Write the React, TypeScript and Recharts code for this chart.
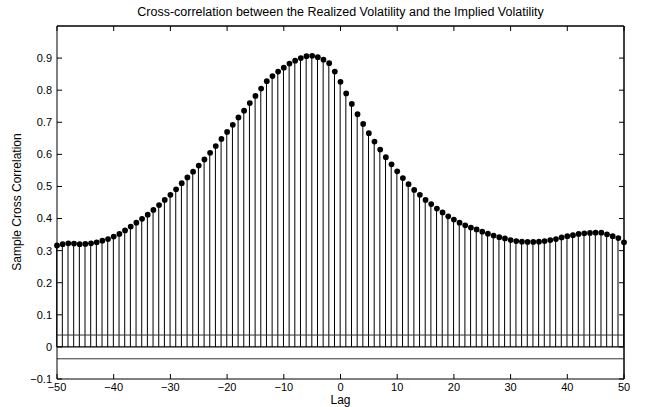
import { ComposedChart, Bar, Scatter, XAxis, YAxis, ZAxis, ReferenceLine } from 'recharts';

const lags: number[] = Array.from({ length: 101 }, (_, i) => i - 50);

// sample cross correlation at lags -50 .. 50
const xcorr: number[] = [
  0.316, 0.320, 0.323, 0.322, 0.320, 0.321, 0.323, 0.326, 0.331, 0.336,
  0.344, 0.352, 0.363, 0.375, 0.387, 0.399, 0.412, 0.427, 0.442, 0.458,
  0.474, 0.491, 0.510, 0.528, 0.546, 0.565, 0.584, 0.605, 0.626, 0.648,
  0.670, 0.692, 0.715, 0.736, 0.760, 0.782, 0.805, 0.828, 0.844, 0.858,
  0.870, 0.883, 0.892, 0.900, 0.906, 0.907, 0.903, 0.895, 0.884, 0.858,
  0.826, 0.790, 0.757, 0.725, 0.695, 0.666, 0.640, 0.615, 0.591, 0.569,
  0.547, 0.526, 0.507, 0.489, 0.474, 0.458, 0.445, 0.431, 0.419, 0.407,
  0.397, 0.387, 0.379, 0.372, 0.366, 0.359, 0.353, 0.347, 0.342, 0.338,
  0.333, 0.330, 0.328, 0.327, 0.327, 0.328, 0.330, 0.333, 0.336, 0.341,
  0.345, 0.348, 0.352, 0.354, 0.355, 0.356, 0.356, 0.351, 0.345, 0.339,
  0.326,
];

const confBound = 0.037;
const xTicks: number[] = [-50, -40, -30, -20, -10, 0, 10, 20, 30, 40, 50];
const yTicks: number[] = [-0.1, 0, 0.1, 0.2, 0.3, 0.4, 0.5, 0.6, 0.7, 0.8, 0.9];

const data = lags.map((lag, i) => ({ lag, value: xcorr[i] }));

const font = '"Liberation Sans", Arial, Helvetica, sans-serif';
const tickStyle = { fill: '#000', fontSize: 11, fontFamily: font };
const fmt = (v: number) => (v < 0 ? `\u2212${Math.abs(v)}` : `${v}`);
const blank = () => '';

export default function App() {
  return (
    <div style={{ position: 'absolute', left: 0, top: 0, width: 645, height: 407, background: '#fff', fontFamily: font }}>
      <ComposedChart
        width={645}
        height={407}
        data={data}
        margin={{ top: 25, right: 20, bottom: 0, left: 0 }}
        style={{ position: 'absolute', left: 0, top: 0 }}
      >
        <XAxis
          dataKey="lag"
          type="number"
          domain={[-50, 50]}
          ticks={xTicks}
          height={28}
          tickSize={-5}
          tickMargin={9}
          tick={tickStyle}
          stroke="#000"
          tickFormatter={fmt}
        />
        <XAxis
          xAxisId="top"
          dataKey="lag"
          orientation="top"
          type="number"
          domain={[-50, 50]}
          ticks={xTicks}
          height={1}
          tickSize={-5}
          tick={tickStyle}
          tickFormatter={blank}
          stroke="#000"
        />
        <YAxis
          type="number"
          domain={[-0.1, 1.0]}
          ticks={yTicks}
          width={57}
          tickSize={-5}
          tickMargin={10}
          tick={tickStyle}
          stroke="#000"
          tickFormatter={fmt}
        />
        <YAxis
          yAxisId="right"
          orientation="right"
          type="number"
          domain={[-0.1, 1.0]}
          ticks={yTicks}
          width={1}
          tickSize={-5}
          tick={tickStyle}
          tickFormatter={blank}
          stroke="#000"
        />
        <ZAxis range={[26, 26]} />
        <ZAxis zAxisId="box" range={[1, 1]} />
        <ReferenceLine y={1.0} stroke="#000" strokeWidth={1} />
        <ReferenceLine x={50} stroke="#000" strokeWidth={1} />
        <ReferenceLine y={confBound} stroke="#333" strokeWidth={1} />
        <ReferenceLine y={-confBound} stroke="#333" strokeWidth={1} />
        <Bar dataKey="value" barSize={1} fill="#000" isAnimationActive={false} />
        <ReferenceLine y={0} stroke="#000" strokeWidth={1.2} />
        <Scatter dataKey="value" fill="#000" shape="circle" isAnimationActive={false} />
        {/* invisible series so the top / right box axes get drawn with their ticks */}
        <Scatter
          dataKey="value"
          xAxisId="top"
          yAxisId="right"
          zAxisId="box"
          fill="none"
          stroke="none"
          legendType="none"
          isAnimationActive={false}
        />
      </ComposedChart>
      <div style={{ position: 'absolute', left: 0, width: 681, top: 5, textAlign: 'center', fontSize: 12.5, color: '#000', whiteSpace: 'nowrap' }}>
        Cross-correlation between the Realized Volatility and the Implied Volatility
      </div>
      <div style={{ position: 'absolute', left: 0, width: 681, top: 393, textAlign: 'center', fontSize: 12, color: '#000' }}>
        Lag
      </div>
      <div
        style={{
          position: 'absolute', left: 17, top: 202, fontSize: 12, color: '#000', whiteSpace: 'nowrap',
          transform: 'translate(-50%, -50%) rotate(-90deg)',
        }}
      >
        Sample Cross Correlation
      </div>
    </div>
  );
}
